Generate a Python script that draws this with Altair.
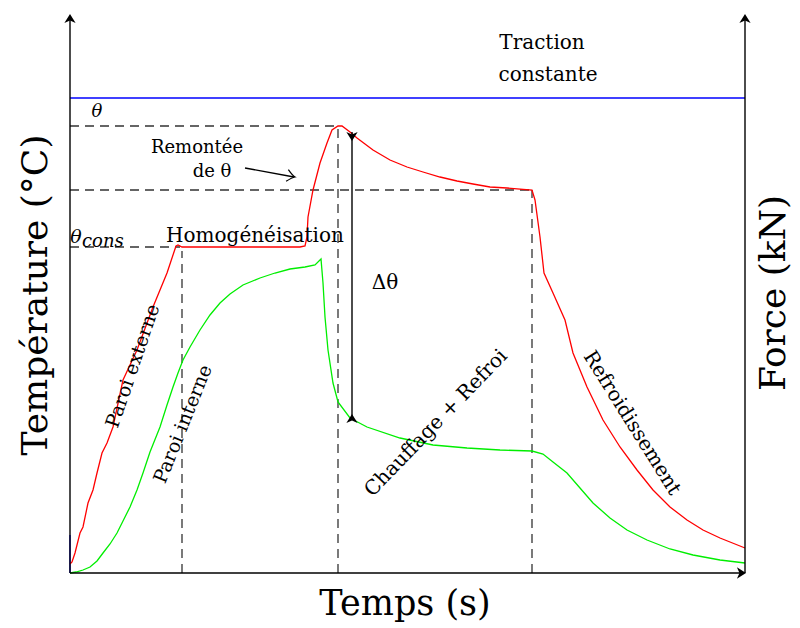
import altair as alt
import pandas as pd

# Schematic units: time 0..675, temperature/force 0..558
X_MAX = 675
Y_MAX = 558

# Paroi externe (red)
red_t = [0, 2, 5, 10, 13, 18, 23, 27, 32, 37, 43, 53, 67, 83, 97, 106, 108, 112, 230, 235,
         237, 238, 243, 250, 257, 262, 268, 272, 280, 287, 303, 320, 337, 353, 370, 387,
         403, 420, 437, 462, 465, 470, 474, 483, 495, 503, 517, 533, 550, 567, 583, 600,
         617, 633, 650, 675]
red_v = [9, 11, 20, 40, 46, 70, 83, 100, 120, 130, 146, 193, 223, 266, 300, 327, 328, 326, 326, 327,
         336, 356, 383, 410, 430, 443, 447, 447, 441, 435, 423, 413, 406, 401, 396, 392,
         389, 386, 385, 383, 373, 336, 300, 280, 253, 220, 186, 153, 126, 103, 83, 66,
         53, 43, 35, 25]

# Paroi interne (green)
green_t = [0, 6, 13, 20, 27, 33, 40, 47, 53, 60, 67, 73, 80, 90, 97, 103, 108, 113, 120, 130,
           140, 150, 160, 173, 190, 205, 220, 235, 245, 251, 253, 255, 258, 263, 268, 280,
           297, 330, 363, 397, 430, 462, 473, 483, 497, 510, 523, 540, 557, 577, 600, 623,
           650, 675]
green_v = [0, 1, 3, 6, 12, 20, 29, 40, 52, 66, 83, 100, 121, 146, 168, 186, 200, 213, 226, 243,
           258, 270, 279, 288, 295, 300, 304, 306, 308, 314, 290, 256, 223, 190, 171, 155,
           146, 135, 128, 125, 123, 122, 119, 111, 100, 85, 70, 55, 43, 33, 24, 18,
           13, 10]

# Force (blue): constant traction
force_level = 475
force_start = 38

# Reference levels
theta_peak = 447
theta_after = 383
theta_cons = 326
t_homog = 112
t_peak = 268
t_end = 462
t_delta = 282

FONT = "DejaVu Serif"

red = pd.DataFrame({"t": red_t, "v": red_v, "o": range(len(red_t))})
green = pd.DataFrame({"t": green_t, "v": green_v, "o": range(len(green_t))})

xs = alt.Scale(domain=[0, X_MAX], nice=False, zero=False)
ys = alt.Scale(domain=[0, Y_MAX], nice=False, zero=False)


def line(df, color, width=1.3):
    return alt.Chart(df).mark_line(color=color, strokeWidth=width, clip=False).encode(
        x=alt.X("t:Q", scale=xs, axis=None),
        y=alt.Y("v:Q", scale=ys, axis=None),
        order="o:Q",
    )


def segs(rows, color="black", width=1.3, dash=None):
    df = pd.DataFrame(rows, columns=["x", "y", "x2", "y2"])
    kw = dict(color=color, strokeWidth=width)
    if dash:
        kw["strokeDash"] = dash
    return alt.Chart(df).mark_rule(**kw).encode(
        x=alt.X("x:Q", scale=xs, axis=None),
        y=alt.Y("y:Q", scale=ys, axis=None),
        x2="x2:Q",
        y2="y2:Q",
    )


dashed = segs([
    [0, theta_peak, t_peak, theta_peak],
    [0, theta_after, t_end, theta_after],
    [0, theta_cons, t_homog - 2, theta_cons],
    [t_homog, 0, t_homog, theta_cons - 4],
    [t_peak, 0, t_peak, theta_peak],
    [t_end, 0, t_end, theta_after],
], color="#333333", width=1.3, dash=[9, 6])

force_line = segs([
    [0, force_level, X_MAX, force_level],
    [0, 0, 0, force_start],
], color="#0000ff", width=1.3)

axes = segs([
    [0, 0, 0, Y_MAX - 1],
    [X_MAX, 0, X_MAX, Y_MAX - 1],
    [0, 0, X_MAX - 1, 0],
    [t_delta, theta_peak - 6, t_delta, 153],
    [175, 405, 224, 396],
], color="black", width=1.4)

stealth = "M0,0 L-1,-0.62 L-0.72,0 L-1,0.62 Z"
heads = pd.DataFrame({
    "x": [0, X_MAX, X_MAX + 1, t_delta, t_delta],
    "y": [Y_MAX + 1, Y_MAX + 1, 0, theta_peak - 15, 159],
    "a": [270, 270, 0, 90, 270],
})
arrowheads = alt.Chart(heads).mark_point(
    shape=stealth, filled=True, color="black", size=330, opacity=1, clip=False
).encode(
    x=alt.X("x:Q", scale=xs, axis=None),
    y=alt.Y("y:Q", scale=ys, axis=None),
    angle=alt.Angle("a:Q", scale=None),
)

open_head = pd.DataFrame({"x": [225], "y": [396], "a": [11]})
open_arrow = alt.Chart(open_head).mark_point(
    shape="M-1,-0.75 Q-0.35,-0.12 0,0 Q-0.35,0.12 -1,0.75",
    filled=False, color="black", size=250, strokeWidth=1.2, opacity=1, clip=False
).encode(
    x=alt.X("x:Q", scale=xs, axis=None),
    y=alt.Y("y:Q", scale=ys, axis=None),
    angle=alt.Angle("a:Q", scale=None),
)

labels = pd.DataFrame([
    ["Remontée", 127, 425, 0, 18],
    ["de θ", 142, 401, 0, 18],
    ["Homogénéisation", 185, 337, 0, 20],
    ["Paroi externe", 63, 207, 289, 19],
    ["Paroi interne", 113, 149, 292, 19],
    ["Δθ", 315, 290, 0, 20],
    ["Chauffage + Refroi", 366, 150, 314, 20],
    ["Refroidissement", 562, 150, 58, 20],
    ["Traction", 472, 530, 0, 20],
    ["constante", 478, 498, 0, 20],
    ["Température (°C)", -34, 278, 270, 36],
    ["Force (kN)", 704, 280, 270, 36],
    ["Temps (s)", 335, -31, 0, 35],
], columns=["text", "x", "y", "a", "s"])

texts = alt.Chart(labels).mark_text(font=FONT, color="black", baseline="middle", align="center").encode(
    x=alt.X("x:Q", scale=xs, axis=None),
    y=alt.Y("y:Q", scale=ys, axis=None),
    text="text:N",
    angle=alt.Angle("a:Q", scale=None),
    size=alt.Size("s:Q", scale=None),
)

ital = pd.DataFrame([
    ["θ", 27, 461, 18, "center"],
    ["θ", 6, 336, 19, "center"],
    ["cons", 12, 331, 18, "left"],
], columns=["text", "x", "y", "s", "al"])

ital_left = alt.Chart(ital[ital.al == "left"]).mark_text(
    font=FONT, fontStyle="italic", color="black", baseline="middle", align="left"
).encode(
    x=alt.X("x:Q", scale=xs, axis=None),
    y=alt.Y("y:Q", scale=ys, axis=None),
    text="text:N",
    size=alt.Size("s:Q", scale=None),
)
ital_center = alt.Chart(ital[ital.al == "center"]).mark_text(
    font=FONT, fontStyle="italic", color="black", baseline="middle", align="center"
).encode(
    x=alt.X("x:Q", scale=xs, axis=None),
    y=alt.Y("y:Q", scale=ys, axis=None),
    text="text:N",
    size=alt.Size("s:Q", scale=None),
)

chart = alt.layer(
    dashed,
    force_line,
    line(green, "#00ee00"),
    line(red, "#ff0000"),
    axes,
    arrowheads,
    open_arrow,
    texts,
    ital_left,
    ital_center,
).properties(
    width=X_MAX,
    height=Y_MAX,
    autosize=alt.AutoSizeParams(type="none"),
    padding={"left": 62, "top": 7, "right": 47, "bottom": 50},
    background="white",
).configure_view(stroke=None)

chart.save("out.html", embed_options={"renderer": "svg", "actions": False})
